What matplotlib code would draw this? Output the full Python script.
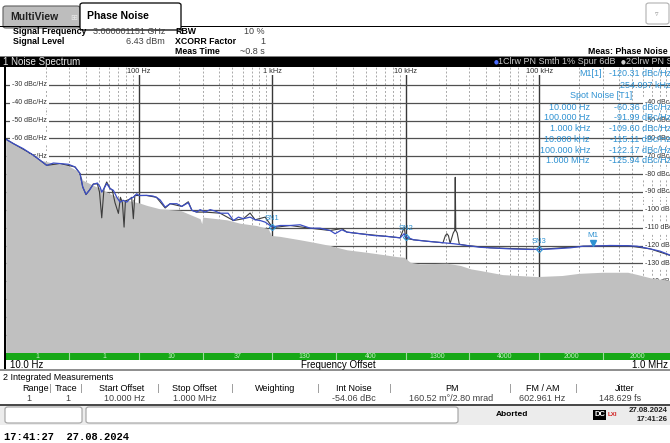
import numpy as np
import matplotlib
matplotlib.use("Agg")
import matplotlib.pyplot as plt
from matplotlib.patches import Rectangle, FancyBboxPatch
from matplotlib.transforms import offset_copy, blended_transform_factory

W, H = 670, 443
UI = "Liberation Sans"

# trace 1: smoothed phase noise (Hz, dBc/Hz)
freq1 = [10, 11.4, 13.5, 16.1, 18.1, 20.3, 22.8, 25.5, 29.5, 33.1, 36.1, 37.8, 40, 42.4,
         45.4, 48.7, 51, 52.5, 54.6, 57.2, 60.6, 64.2, 68, 72, 76.3, 80.9, 85.6, 90.6,
         96.1, 100, 114, 127, 135, 144, 157, 171, 192, 209, 234, 249, 271, 287, 313,
         341, 372, 405, 465, 510, 556, 606, 680, 742, 809, 882, 961, 1000, 1142, 1358,
         1614, 1918, 2280, 2710, 2954, 3317, 3616, 4550, 5725, 7210, 9080, 9730, 10000,
         11430, 14390, 18110, 22800, 28710, 36140, 42950, 60670, 85700, 100000, 127600,
         171000, 214300, 254097, 341000, 456000, 542000, 681000, 809000, 1000000]
pn1 = [-60.36, -62.9, -65.7, -69.4, -72.2, -75.1, -73.8, -74.1, -74.5, -76.0, -79.7, -87.2,
       -91.3, -89.1, -85.7, -85.0, -87.2, -90.1, -88.1, -85.3, -88.1, -89.1, -92.9, -95.7,
       -94.7, -95.7, -93.8, -92.9, -91.0, -91.99, -91.9, -92.3, -93.0, -94.5, -98.5, -96.6,
       -96.6, -98.1, -96.0, -100.3, -101.3, -99.9, -101.3, -99.9, -100.7, -101.9, -101.9,
       -106.0, -104.1, -105.0, -104.1, -105.6, -106.0, -106.9, -108.8, -109.60, -108.8,
       -108.8, -108.4, -110.3, -110.3, -111.6, -113.4, -111.2, -112.5, -113.4, -114.4,
       -114.9, -115.7, -113.4, -115.11, -116.8, -117.6, -118.3, -119.0, -120.0, -121.0,
       -121.3, -121.9, -122.2, -122.17, -121.9, -121.3, -120.4, -120.31, -120.0, -120.1,
       -120.4, -121.9, -123.2, -125.94]

# trace 2: raw phase noise incl. spurs
freq2 = [10, 16.1, 20.3, 25.5, 33.1, 36.1, 37.8, 40, 42.4, 45.4, 48.7, 50.5, 52.5, 54.6,
         57.2, 60.6, 63, 66, 70, 72.5, 75, 77.2, 79, 85.6, 88, 90.6, 93, 100, 114, 135,
         157, 171, 209, 234, 249, 271, 313, 405, 510, 606, 680, 742, 882, 961, 1000, 1358,
         1918, 2710, 3317, 3616, 4550, 7210, 9080, 9730, 10000, 11430, 14390, 18110, 19000,
         19800, 20330, 20900, 21500, 22700, 23300, 23490, 23700, 24300, 25200, 28710,
         42950, 100000, 214300, 456000, 681000, 1000000]
pn2 = [-60.4, -69.4, -75.1, -74.1, -76.0, -79.7, -87.2, -91.5, -89.0, -85.5, -85.5, -90.0,
       -104.5, -88.0, -84.4, -88.0, -89.0, -96.0, -102.0, -93.0, -96.0, -109.7, -95.0, -94.0,
       -93.0, -105.0, -92.0, -92.0, -92.0, -93.0, -99.0, -96.6, -98.1, -95.5, -100.3, -101.3,
       -101.3, -101.9, -106.0, -105.0, -101.8, -105.6, -104.1, -108.0, -110.0, -108.8,
       -110.3, -111.6, -110.5, -112.5, -113.4, -114.9, -115.7, -109.7, -116.0, -116.8,
       -117.6, -118.3, -118.5, -114.5, -113.4, -114.5, -118.8, -113.0, -111.5, -81.8,
       -111.5, -113.0, -119.3, -120.0, -121.3, -122.2, -120.4, -120.1, -121.9, -126.0]

# grey cross-correlation floor
floor_freq = [10, 18.1, 22.8, 29, 34, 38, 42.6, 51, 60.6, 72, 100, 114, 144, 203, 287, 295,
              300, 455, 570, 760, 930, 985, 1142, 1614, 2010, 2710, 3030, 3616, 5100, 6800,
              8540, 9730, 10800, 12750, 20330, 25700, 30700, 36140, 53100, 96000, 149000,
              199000, 296000, 462000, 548000, 681000, 967000, 1000000]
floor_pn = [-60.4, -72.2, -73.9, -75.1, -77.9, -83.5, -85.3, -88.1, -91.0, -93.8, -96.1,
            -97.5, -99.5, -100.3, -105.0, -107.8, -104.1, -105.6, -107.5, -108.8, -110.6,
            -114.4, -114.9, -116.8, -118.1, -120.0, -121.0, -122.4, -123.8, -125.1, -126.2,
            -126.6, -129.4, -130.3, -129.9, -131.2, -133.1, -134.0, -136.3, -137.4, -136.8,
            -135.6, -135.0, -135.0, -136.3, -138.1, -139.7, -140.0]

spot_freq = [10, 100, 1e3, 1e4, 1e5, 1e6]
spot_pn = [-60.36, -91.99, -109.60, -115.11, -122.17, -125.94]
spot_names = ["10.000 Hz", "100.000 Hz", "1.000 kHz", "10.000 kHz", "100.000 kHz", "1.000 MHz"]
sn_freq = [1e3, 1e4, 1e5]
sn_pn = [-109.60, -115.11, -122.17]
m1_freq, m1_pn = 254097, -120.31

levels = list(range(-30, -180, -10))
decades = [100, 1e3, 1e4, 1e5]
decade_names = ["100 Hz", "1 kHz", "10 kHz", "100 kHz"]

seg_edges = [10, 30, 100, 300, 1e3, 3e3, 1e4, 3e4, 1e5, 3e5, 1e6]
seg_avg = ["1", "1", "10", "37", "130", "400", "1300", "4000", "2000", "2000"]

cols = ["Range", "Trace", "Start Offset", "Stop Offset", "Weighting", "Int Noise", "PM",
        "FM / AM", "Jitter"]
row1 = ["1", "1", "10.000 Hz", "1.000 MHz", "", "-54.06 dBc", "160.52 m\u00b0/2.80 mrad",
        "602.961 Hz", "148.629 fs"]

MK = "#2f92d2"
BLUE = "#3b4dc4"

fig = plt.figure(figsize=(W / 100, H / 100), dpi=100)
fig.patch.set_facecolor("white")


def fx(x):
    return x / W


def fy(y):
    return 1 - y / H


def txt(x, y, s, size=6.5, **kw):
    kw.setdefault("family", UI)
    kw.setdefault("va", "center")
    fig.text(fx(x), fy(y), s, fontsize=size, **kw)


def rect(x0, y0, x1, y1, **kw):
    fig.patches.append(Rectangle((fx(x0), fy(y1)), (x1 - x0) / W, (y1 - y0) / H,
                                 transform=fig.transFigure, **kw))


def rbox(x0, y0, x1, y1, r=3, **kw):
    fig.patches.append(FancyBboxPatch((fx(x0), fy(y1)), (x1 - x0) / W, (y1 - y0) / H,
                                      boxstyle="round,pad=0,rounding_size=%f" % (r / W),
                                      transform=fig.transFigure, **kw))


# ---- tabs and header ----
rbox(3, 6, 80, 28, fc="#bdbdbd", ec="#606060", lw=0.8)
txt(10, 17, "MultiView", size=7.5, weight="bold", color="#202020")
txt(70, 17, "\u229e", size=6, color="#e8e8e8", family="DejaVu Sans")
rect(0, 25.5, 670, 26.5, fc="black", ec="none")
rbox(80, 3, 181, 30, fc="white", ec="black", lw=0.9)
rect(81, 24, 180, 29, fc="white", ec="none")
txt(87, 16, "Phase Noise", size=7.5, weight="bold", color="black")
rbox(646, 3, 669, 24, fc="white", ec="#b0b0b0", lw=0.8)
txt(657, 14, "\u25bf", size=5, color="#909090", ha="center", family="DejaVu Sans")

txt(13, 32, "Signal Frequency", size=6.3, weight="bold")
txt(13, 42, "Signal Level", size=6.3, weight="bold")
txt(165, 32, "3.000001151 GHz", size=6.5, ha="right", color="#404040")
txt(165, 42, "6.43 dBm", size=6.5, ha="right", color="#404040")
for y, k, v in [(32, "RBW", "10 %"), (42, "XCORR Factor", "1"), (52, "Meas Time", "~0.8 s")]:
    txt(175, y, k, size=6.3, weight="bold")
    txt(265, y, v, size=6.5, ha="right", color="#404040")
txt(668, 52, "Meas: Phase Noise", size=6.3, weight="bold", ha="right")

# title bar of the diagram
rect(0, 56, 670, 57, fc="#808080", ec="none")
rect(0, 57, 670, 67, fc="black", ec="none")
txt(3, 62, "1 Noise Spectrum", size=7, color="#e6e6e6")
txt(494, 62, "\u25cf", size=4, color="#4a6cff", family="DejaVu Sans")
txt(498, 62, "1Clrw PN Smth 1% Spur 6dB", size=6.5, color="#c8c8c8")
txt(621, 62, "\u25cf", size=4, color="#d0d0d0", family="DejaVu Sans")
txt(626, 62, "2Clrw PN Smth 1%", size=6.5, color="#c8c8c8")

# ---- diagram ----
ax = fig.add_axes([fx(5.7), fy(352.6), (672.5 - 5.7) / W, (352.6 - 67) / H])
ax.set_xscale("log")
ax.set_xlim(10, 1e6)
ax.set_ylim(-180, -20)
ax.axis("off")

for d in decades + [1e6]:
    for k in range(2, 10):
        ax.axvline(d / 10 * k, color="#a8a8a8", lw=0.7, ls=(0, (2, 2)), zorder=1)
for d in decades:
    ax.axvline(d, color="#383838", lw=1.0, zorder=1)
for lv in levels:
    ax.axhline(lv, color="#505050", lw=0.9, zorder=1)

tr = blended_transform_factory(ax.transAxes, ax.transData)
for lv in levels:
    ax.text((12 - 5.7) / 666.8, lv, "%d dBc/Hz" % lv, transform=tr, fontsize=5, family=UI,
            va="center", ha="left", color="#303030", zorder=2,
            bbox=dict(fc="white", ec="none", pad=1.2))
    if lv <= -40:
        ax.text((645 - 5.7) / 666.8, lv, "%d dBc/Hz" % lv, transform=tr, fontsize=5,
                family=UI, va="center", ha="left", color="#303030", zorder=2, clip_on=False,
                bbox=dict(fc="white", ec="none", pad=1.2))
for d, name in zip(decades, decade_names):
    ax.text(d, -22.3, name, fontsize=5.3, family=UI, ha="center", va="center",
            color="#303030", zorder=2, bbox=dict(fc="white", ec="none", pad=0.5))

ax.fill_between(floor_freq, floor_pn, -180, color="#c0c0c0", lw=0, zorder=3)
ax.plot(freq2, pn2, color="#3c3c3c", lw=0.8, zorder=4)
ax.plot(freq1, pn1, color=BLUE, lw=0.9, zorder=5)

ax.plot(sn_freq, sn_pn, "D", ms=3.2, mfc="none", mec=MK, mew=0.8, zorder=6)
for i, (f, p) in enumerate(zip(sn_freq, sn_pn)):
    ax.annotate("SN%d" % (i + 1), (f, p), xytext=(0, 6), textcoords="offset points",
                ha="center", va="center", fontsize=5.5, family=UI, color=MK, zorder=7)
tri = offset_copy(ax.transData, fig=fig, x=0, y=2.3, units="points")
ax.plot([m1_freq], [m1_pn], "v", ms=5, color=MK, transform=tri, zorder=6)
ax.annotate("M1", (m1_freq, m1_pn), xytext=(0, 7.5), textcoords="offset points",
            ha="center", va="center", fontsize=5.8, family=UI, color=MK, zorder=7)

# marker table
txt(602, 74, "M1[1]", size=6.5, ha="right", color=MK)
txt(671, 74, "%.2f dBc/Hz" % m1_pn, size=6.5, ha="right", color=MK)
txt(671, 85, "%.3f kHz" % (m1_freq / 1e3), size=6.5, ha="right", color=MK)
txt(601, 96, "Spot Noise [T1]", size=6.5, ha="center", color=MK)
for i, (name, p) in enumerate(zip(spot_names, spot_pn)):
    y = 107 + i * 10.8
    txt(590, y, name, size=6.5, ha="right", color=MK)
    txt(671, y, "%.2f dBc/Hz" % p, size=6.5, ha="right", color=MK)

# averaging bar
gx = fig.add_axes([fx(5.7), fy(359.5), (672.5 - 5.7) / W, 7 / H])
gx.set_xscale("log")
gx.set_xlim(10, 1e6)
gx.set_ylim(0, 1)
gx.axis("off")
gx.add_patch(Rectangle((0, 0), 1, 1, transform=gx.transAxes, fc="#17a817", ec="none"))
for e in seg_edges[1:-1]:
    gx.axvline(e, color="#9fdc9f", lw=0.8)
for a, b, s in zip(seg_edges[:-1], seg_edges[1:], seg_avg):
    gx.text(np.sqrt(a * b), 0.45, s, ha="center", va="center", fontsize=5, family=UI,
            color="#c6efc6")

rect(4, 66, 6, 370, fc="black", ec="none")
txt(10, 364.5, "10.0 Hz", size=7)
txt(338, 364.5, "Frequency Offset", size=7, ha="center")
txt(668, 364.5, "1.0 MHz", size=7, ha="right")
rect(0, 369, 670, 370.5, fc="#909090", ec="none")

# integrated measurement table
txt(3, 377, "2 Integrated Measurements", size=6.5)
rect(0, 382.5, 670, 383.3, fc="#c8c8c8", ec="none")
head_x = [36, 66, 122, 194, 275, 354, 452, 543, 625]
val_x = [29, 68, 124, 195, 275, 354, 451, 542, 620]
for x in [50, 81, 158, 232, 318, 390, 510, 576]:
    rect(x, 384, x + 0.8, 393, fc="#a0a0a0", ec="none")
for x, s in zip(head_x, cols):
    txt(x, 388.5, s, size=6.5, ha="center")
for x, s in zip(val_x, row1):
    txt(x, 398.5, s, size=6.5, ha="center", color="#404040")

# status bar
rect(0, 403.5, 670, 406, fc="#4a4a4a", ec="none")
rect(0, 406, 670, 425, fc="#ececec", ec="none")
rbox(5, 407, 82, 423, r=3, fc="white", ec="#a0a0a0", lw=0.8)
rbox(86, 407, 458, 423, r=3, fc="white", ec="#a0a0a0", lw=0.8)
txt(512, 415, "Aborted", size=6, weight="bold", ha="center")
rect(593, 410, 606, 420, fc="black", ec="none")
txt(599.5, 415, "DC", size=5.5, weight="bold", color="white", ha="center")
txt(612, 415, "LXI", size=4.5, weight="bold", color="#d02020", ha="center")
txt(668, 410.5, "27.08.2024", size=5.6, weight="bold", ha="right", color="#202020")
txt(668, 419.5, "17:41:26", size=5.6, weight="bold", ha="right", color="#202020")

txt(4, 437, "17:41:27  27.08.2024", size=7.6, weight="bold", family="Liberation Mono")

fig.savefig("out.png", dpi=100)
